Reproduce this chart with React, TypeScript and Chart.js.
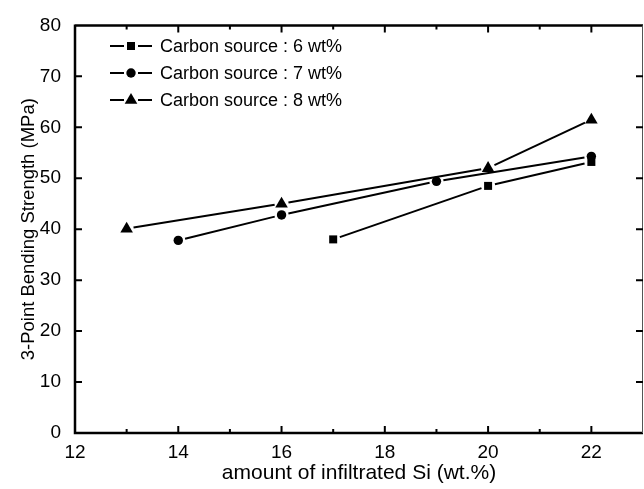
import React, { useEffect, useRef } from "react";
import { Chart, registerables } from "chart.js";

Chart.register(...registerables);

const xTicks = [12, 14, 16, 18, 20, 22];
const yTicks = [0, 10, 20, 30, 40, 50, 60, 70, 80];

const labels = ["Carbon source : 6 wt%", "Carbon source : 7 wt%", "Carbon source : 8 wt%"];
const pointStyles = ["rect", "circle", "triangle"];

const si6 = [17, 20, 22];
const strength6 = [38, 48.5, 53.2];
const si7 = [14, 16, 19, 22];
const strength7 = [37.8, 42.8, 49.4, 54.3];
const si8 = [13, 16, 20, 22];
const strength8 = [40.1, 45, 52, 61.5];

const FONT = "'Liberation Sans', Arial, sans-serif";
const GAP = 7;

function drawMarker(ctx: CanvasRenderingContext2D, style: string, x: number, y: number) {
  ctx.save();
  ctx.fillStyle = "#000";
  ctx.beginPath();
  if (style === "rect") {
    const s = 4;
    ctx.rect(x - s, y - s, 2 * s, 2 * s);
  } else if (style === "circle") {
    ctx.arc(x, y, 4.7, 0, Math.PI * 2);
  } else {
    const r = 7;
    ctx.moveTo(x, y - r);
    ctx.lineTo(x + r * 0.9, y + r * 0.55);
    ctx.lineTo(x - r * 0.9, y + r * 0.55);
    ctx.closePath();
  }
  ctx.fill();
  ctx.restore();
}

const gapLines = {
  id: "gapLines",
  beforeDatasetsDraw(chart: any) {
    const ctx = chart.ctx as CanvasRenderingContext2D;
    ctx.save();
    ctx.strokeStyle = "#000";
    ctx.lineWidth = 2;
    chart.data.datasets.forEach((ds: any, i: number) => {
      const meta = chart.getDatasetMeta(i);
      const pts = meta.data;
      for (let k = 0; k < pts.length - 1; k++) {
        const a = pts[k], b = pts[k + 1];
        const dx = b.x - a.x, dy = b.y - a.y;
        const d = Math.hypot(dx, dy);
        const ux = dx / d, uy = dy / d;
        ctx.beginPath();
        ctx.moveTo(a.x + ux * GAP, a.y + uy * GAP);
        ctx.lineTo(b.x - ux * GAP, b.y - uy * GAP);
        ctx.stroke();
      }
    });
    ctx.restore();
  },
};

const frame = {
  id: "frame",
  afterDraw(chart: any) {
    const ctx = chart.ctx as CanvasRenderingContext2D;
    const { left, right, top, bottom } = chart.chartArea;
    const xs = chart.scales.x;
    const ys = chart.scales.y;
    ctx.save();
    ctx.strokeStyle = "#000";
    ctx.lineWidth = 2.5;
    ctx.beginPath();
    ctx.moveTo(left, top);
    ctx.lineTo(right, top);
    ctx.moveTo(left, top - 1);
    ctx.lineTo(left, bottom);
    ctx.lineTo(right, bottom);
    ctx.stroke();
    ctx.lineWidth = 1;
    ctx.strokeStyle = "#555";
    ctx.beginPath();
    ctx.moveTo(right - 0.5, top);
    ctx.lineTo(right - 0.5, bottom);
    ctx.stroke();
    ctx.strokeStyle = "#000";
    ctx.lineWidth = 2;
    for (let v = 13; v <= 22; v++) {
      const px = xs.getPixelForValue(v);
      const len = v % 2 === 0 ? 7 : 4;
      ctx.beginPath();
      ctx.moveTo(px, bottom);
      ctx.lineTo(px, bottom - len);
      ctx.moveTo(px, top);
      ctx.lineTo(px, top + len);
      ctx.stroke();
    }
    for (let v = 10; v <= 70; v += 10) {
      const py = ys.getPixelForValue(v);
      ctx.beginPath();
      ctx.moveTo(left, py);
      ctx.lineTo(left + 7, py);
      ctx.moveTo(right, py);
      ctx.lineTo(right - 7, py);
      ctx.stroke();
    }
    ctx.restore();
  },
};

const legendPlugin = {
  id: "customLegend",
  afterDraw(chart: any) {
    const ctx = chart.ctx as CanvasRenderingContext2D;
    ctx.save();
    ctx.font = `18px ${FONT}`;
    ctx.textBaseline = "middle";
    ctx.fillStyle = "#000";
    chart.data.datasets.forEach((ds: any, i: number) => {
      const y = 46 + i * 27;
      ctx.strokeStyle = "#000";
      ctx.lineWidth = 2;
      ctx.beginPath();
      ctx.moveTo(110, y);
      ctx.lineTo(124, y);
      ctx.moveTo(138, y);
      ctx.lineTo(152, y);
      ctx.stroke();
      drawMarker(ctx, ds.pointStyle, 131, y);
      ctx.fillText(ds.label, 160, y + 1);
    });
    ctx.restore();
  },
};

const markers = {
  id: "markers",
  afterDatasetsDraw(chart: any) {
    const ctx = chart.ctx as CanvasRenderingContext2D;
    chart.data.datasets.forEach((ds: any, i: number) => {
      const meta = chart.getDatasetMeta(i);
      meta.data.forEach((p: any) => drawMarker(ctx, ds.pointStyle, p.x, p.y));
    });
  },
};

function toPoints(xs: number[], ys: number[]) {
  return xs.map((x, i) => ({ x, y: ys[i] }));
}

export default function App() {
  const ref = useRef<HTMLCanvasElement>(null);
  useEffect(() => {
    if (!ref.current) return;
    const series = [
      toPoints(si6, strength6),
      toPoints(si7, strength7),
      toPoints(si8, strength8),
    ];
    const chart = new Chart(ref.current, {
      type: "scatter",
      data: {
        datasets: series.map((data, i) => ({
          label: labels[i],
          data,
          pointStyle: pointStyles[i] as any,
          pointRadius: 0,
          showLine: false,
          borderColor: "#000",
          backgroundColor: "#000",
        })),
      },
      options: {
        animation: false,
        responsive: false,
        maintainAspectRatio: false,
        layout: { padding: { top: 15, right: 1, left: 0, bottom: 0 } },
        plugins: { legend: { display: false }, tooltip: { enabled: false } },
        scales: {
          x: {
            type: "linear",
            min: 12,
            max: 23,
            afterBuildTicks: (s: any) => {
              s.ticks = xTicks.map((v) => ({ value: v }));
            },
            afterFit: (s: any) => {
              s.height = 56;
            },
            grid: { display: false, drawTicks: false },
            border: { display: false },
            ticks: {
              padding: 8,
              color: "#000",
              font: { family: FONT, size: 19 },
            },
            title: {
              display: true,
              text: "amount of infiltrated Si (wt.%)",
              color: "#000",
              font: { family: FONT, size: 21 },
              padding: { top: 0, bottom: 3 },
            },
          },
          y: {
            type: "linear",
            min: 0,
            max: 80,
            afterBuildTicks: (s: any) => {
              s.ticks = yTicks.map((v) => ({ value: v }));
            },
            afterFit: (s: any) => {
              s.width = 75;
            },
            grid: { display: false, drawTicks: false },
            border: { display: false },
            ticks: {
              padding: 14,
              color: "#000",
              font: { family: FONT, size: 19 },
            },
            title: {
              display: true,
              text: "3-Point Bending Strength (MPa)",
              color: "#000",
              font: { family: FONT, size: 18.5 },
              padding: { top: 18, bottom: 0 },
            },
          },
        },
      },
      plugins: [gapLines, markers, frame, legendPlugin],
    });
    return () => chart.destroy();
  }, []);
  return (
    <div style={{ position: "absolute", left: 0, top: 0, width: 644, height: 489, background: "#fff" }}>
      <canvas ref={ref} width={644} height={489} />
    </div>
  );
}
